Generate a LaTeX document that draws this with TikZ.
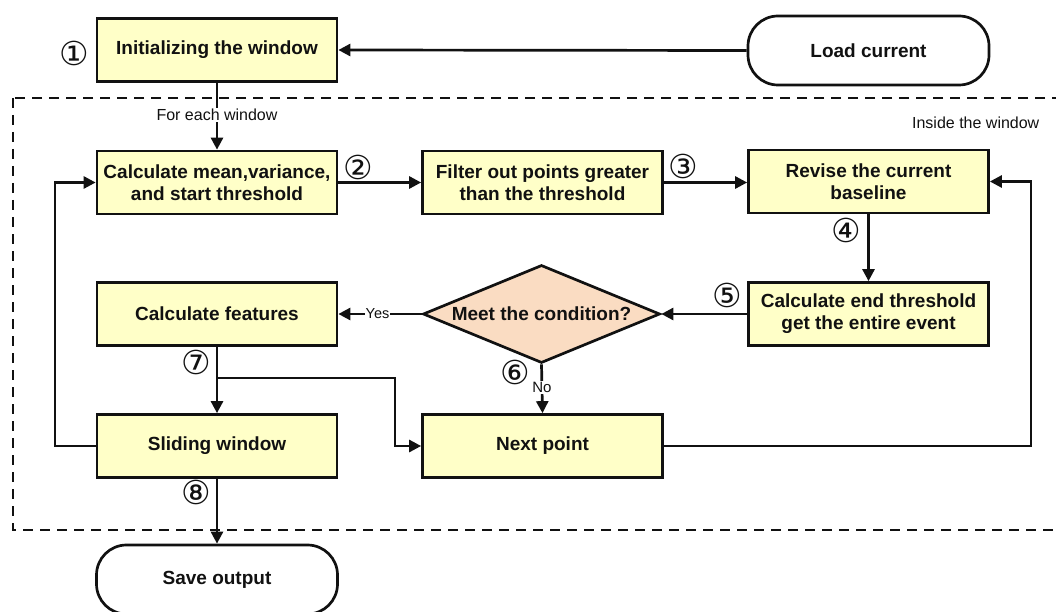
\documentclass[tikz,border=0pt]{standalone}
\usepackage{fontspec}
\setmainfont{Liberation Sans}
\newfontfamily\circfont{DejaVu Sans}
\usetikzlibrary{arrows.meta,shapes.geometric}
\definecolor{boxfill}{HTML}{FFFFC8}
\definecolor{decfill}{HTML}{FADCC2}
\definecolor{inkc}{HTML}{111111}

\begin{document}
\begin{tikzpicture}[x=1pt,y=-1pt,
  line width=2.7pt, draw=inkc,
  flow/.style={draw=inkc, -{Triangle[length=12pt,width=12pt]}},
  boldtext/.style={font=\fontsize{19}{22}\selectfont\bfseries, text=inkc},
  procbox/.style={boldtext, draw=inkc, fill=boxfill, minimum width=240pt, minimum height=63pt, inner sep=2pt, align=center},
  termbox/.style={boldtext, draw=inkc, rounded corners=30pt, minimum width=241pt, minimum height=69pt},
  decbox/.style={boldtext, draw=inkc, diamond, fill=decfill, aspect=2.42, minimum width=237pt, minimum height=98pt, inner sep=0pt},
  stepnum/.style={font=\circfont\fontsize{33}{33}\selectfont, inner sep=0pt, text=inkc},
  edgelabel/.style={fill=white, inner sep=1pt, text=inkc},
]
\useasboundingbox (0,0) rectangle (1056,612);

% processing loop region
\draw[dashed, dash pattern=on 10pt off 7pt] (13,98) rectangle (1066,530);
\node[anchor=east, font=\fontsize{16}{18}\selectfont, text=inkc] (insidelbl) at (1044,123) {Inside the window};

% nodes
\node[termbox] (load) at (868.5,50.5) {Load current};
\node[procbox] (init) at (217,50) {Initializing the window};
\node[procbox] (calc) at (217,182.5) {Calculate mean,variance,\\and start threshold};
\node[procbox] (filter) at (542.5,182.5) {Filter out points greater\\than the threshold};
\node[procbox] (revise) at (868.5,181.5) {Revise the current\\baseline};
\node[procbox] (endthr) at (868.5,314) {Calculate end threshold\\get the entire event};
\node[decbox] (cond) at (541.5,314) {Meet the condition?};
\node[procbox] (feat) at (217,314) {Calculate features};
\node[procbox] (slide) at (217,446) {Sliding window};
\node[procbox] (next) at (542.5,446) {Next point};
\node[termbox] (save) at (217,579.5) {Save output};

% routing points
\coordinate (split) at (217,378);
\coordinate (jog) at (395,378);
\coordinate (leftrail) at (55,300);
\coordinate (rightrail) at (1031,300);

% connectors
\draw[flow] (load.west) -- (init.east);
\draw[flow] (init.south) -- node[edgelabel, pos=0.48, font=\fontsize{16}{18}\selectfont] {For each window} (calc.north);
\draw[flow] (calc.east) -- (filter.west);
\draw[flow] (filter.east) -- (filter.east -| revise.west);
\draw[flow] (revise.south) -- (endthr.north);
\draw[flow] (endthr.west) -- (cond.east);
\draw[flow] (cond.west) -- node[edgelabel, pos=0.53, font=\fontsize{14.5}{16}\selectfont] {Yes} (feat.east);
\draw[flow] (cond.south) -- node[edgelabel, pos=0.47, font=\fontsize{15}{16}\selectfont] {No} (next.north);
\draw[flow] (feat.south) -- (slide.north);
\draw[flow] (split) -- (jog) |- (next.west);
\draw[flow] (slide.west) -| (leftrail) |- (calc.west);
\draw[flow] (next.east) -| (rightrail) |- (revise.east);
\draw[flow] (slide.south) -- (save.north);

% step numbers
\node[stepnum] (s1) at (74,53) {①};
\node[stepnum] (s2) at (358,167) {②};
\node[stepnum] (s3) at (683,166) {③};
\node[stepnum] (s4) at (846,230) {④};
\node[stepnum] (s5) at (727,295) {⑤};
\node[stepnum] (s6) at (515,372) {⑥};
\node[stepnum] (s7) at (196,362) {⑦};
\node[stepnum] (s8) at (196,492) {⑧};
\end{tikzpicture}
\end{document}
